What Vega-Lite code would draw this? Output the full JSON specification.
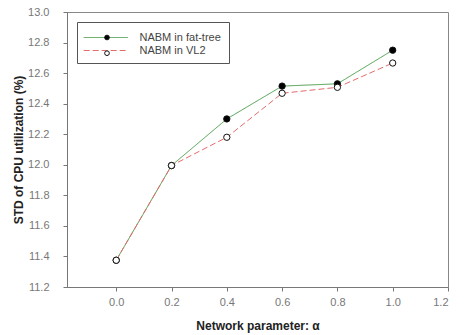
{
  "$schema": "https://vega.github.io/schema/vega-lite/v6.json",
  "width": 381,
  "height": 275,
  "autosize": "none",
  "padding": {"left": 67, "top": 12, "right": 26, "bottom": 48},
  "background": "white",
  "config": {
    "view": {"stroke": "#888888", "strokeWidth": 1},
    "font": "Arial",
    "axis": {"labelFont": "Arial", "titleFont": "Arial", "grid": false}
  },
  "data": {
    "values": [
      {"alpha": 0.0, "std": 11.375, "series": "NABM in fat-tree"},
      {"alpha": 0.2, "std": 11.995, "series": "NABM in fat-tree"},
      {"alpha": 0.4, "std": 12.30, "series": "NABM in fat-tree"},
      {"alpha": 0.6, "std": 12.515, "series": "NABM in fat-tree"},
      {"alpha": 0.8, "std": 12.53, "series": "NABM in fat-tree"},
      {"alpha": 1.0, "std": 12.75, "series": "NABM in fat-tree"},
      {"alpha": 0.0, "std": 11.375, "series": "NABM in VL2"},
      {"alpha": 0.2, "std": 11.995, "series": "NABM in VL2"},
      {"alpha": 0.4, "std": 12.18, "series": "NABM in VL2"},
      {"alpha": 0.6, "std": 12.468, "series": "NABM in VL2"},
      {"alpha": 0.8, "std": 12.507, "series": "NABM in VL2"},
      {"alpha": 1.0, "std": 12.666, "series": "NABM in VL2"}
    ]
  },
  "encoding": {
    "x": {
      "field": "alpha", "type": "quantitative",
      "scale": {"domain": [-0.178, 1.2], "nice": false, "zero": false},
      "axis": {
        "values": [0, 0.2, 0.4, 0.6, 0.8, 1.0, 1.2], "format": ".1f",
        "title": "Network parameter: α",
        "domainColor": "#777777", "tickColor": "#777777", "tickSize": 4,
        "labelColor": "#777777", "labelFontSize": 11, "labelPadding": 5,
        "titleFontSize": 12, "titleFontWeight": "bold", "titleColor": "#222222",
        "titlePadding": 13
      }
    },
    "y": {
      "field": "std", "type": "quantitative",
      "scale": {"domain": [11.2, 13.0], "nice": false, "zero": false},
      "axis": {
        "values": [11.2, 11.4, 11.6, 11.8, 12.0, 12.2, 12.4, 12.6, 12.8, 13.0], "format": ".1f",
        "title": "STD of CPU utilization (%)",
        "domainColor": "#777777", "tickColor": "#777777", "tickSize": 4,
        "labelColor": "#777777", "labelFontSize": 11, "labelPadding": 14,
        "titleFontSize": 12, "titleFontWeight": "bold", "titleColor": "#222222",
        "titlePadding": 2
      }
    }
  },
  "layer": [
    {
      "mark": {"type": "line", "strokeWidth": 1},
      "encoding": {
        "color": {
          "field": "series", "type": "nominal",
          "scale": {"domain": ["NABM in fat-tree", "NABM in VL2"], "range": ["#4a9e4a", "#e66a6a"]},
          "legend": {
            "title": null, "orient": "top-left", "offset": 9.5,
            "fillColor": "white", "strokeColor": "#555555", "padding": 7.5,
            "symbolType": "M-1.2,0H4.8", "symbolSize": 216, "symbolStrokeWidth": 1,
            "labelOffset": 39, "labelFontSize": 11, "labelColor": "#444444", "labelFont": "Arial",
            "rowPadding": 0
          }
        },
        "strokeDash": {
          "field": "series", "type": "nominal",
          "scale": {"domain": ["NABM in fat-tree", "NABM in VL2"], "range": [[1, 0], [6, 3]]},
          "legend": {
            "title": null, "orient": "top-left", "offset": 9.5,
            "fillColor": "white", "strokeColor": "#555555", "padding": 7.5,
            "symbolType": "M-1.2,0H4.8", "symbolSize": 216, "symbolStrokeWidth": 1,
            "labelOffset": 39, "labelFontSize": 11, "labelColor": "#444444", "labelFont": "Arial",
            "rowPadding": 0
          }
        }
      }
    },
    {
      "mark": {"type": "point", "shape": "circle", "filled": true, "stroke": "#111111", "strokeWidth": 1, "size": 40, "opacity": 1},
      "encoding": {
        "fill": {
          "field": "series", "type": "nominal",
          "scale": {"domain": ["NABM in fat-tree", "NABM in VL2"], "range": ["#000000", "#ffffff"]},
          "legend": {
            "title": null, "orient": "none", "legendX": 37, "legendY": 22.5,
            "padding": 0, "symbolType": "circle", "symbolSize": 22, "symbolStrokeWidth": 1,
            "symbolStrokeColor": "#111111",
            "labelExpr": "''", "labelFontSize": 1, "labelOffset": 0, "rowPadding": 5.7
          }
        }
      }
    }
  ]
}
